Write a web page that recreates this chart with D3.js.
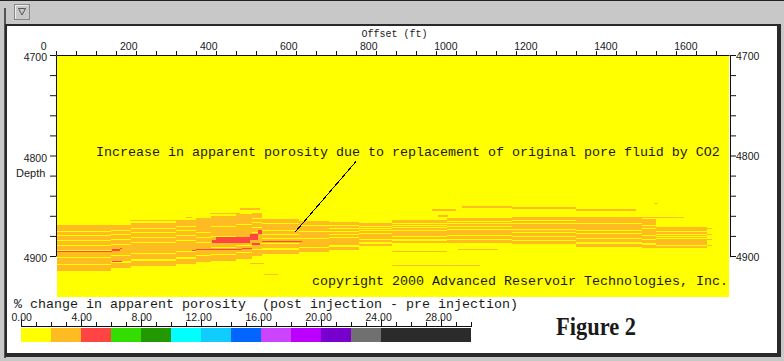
<!DOCTYPE html>
<html><head><meta charset="utf-8">
<script src="https://cdn.jsdelivr.net/npm/d3@7"></script>
<style>body{margin:0;background:#c8c8c8;overflow:hidden}svg{display:block}</style>
</head><body><svg id="c" width="784" height="361"></svg>
<script>
// ---------------- data ----------------
const offsetTicks = d3.range(0, 1651, 50);           // ft
const offsetLabels = [0,200,400,600,800,1000,1200,1400,1600];
const depthTicks = d3.range(4700, 4901, 20);          // ft
const depthLabels = [4700,4800,4900];
// legend
const legendColors = ["#ffff00","#ffbb22","#ff4444","#33dd00","#229900","#00ffff","#11ccff","#0066ff",
                      "#cc44ff","#bb00ff","#7700cc","#707070","#2b2b2b","#2b2b2b","#2b2b2b"];
const legendTickValues = d3.range(0, 31, 1);
const legendLabelValues = [0,4,8,12,16,20,24,28];
// section: trace groups (offset edges, ft) and the orange band (class 1) top / base depth per group
const traceEdges = [0,138,188,301,351,388,451,491,516,608,683,758,841,978,1141,1301,1466,1501,1628];
const bandTop  = [4869,4869,4867,4865,4862,4860,4858,4857,4863,4865,4866,4867,4864,4862,4861,4861,4863,4871];
const bandBase = [4915,4912,4910,4908,4906,4905,4903,4900,4898,4896,4894,4890,4887,4887,4888,4891,4892,4892];
// thin yellow (class 0) laminae inside the band, as fraction of band thickness, and thickness (ft)
const gapFrac  = [0.13,0.22,0.33,0.44,0.55,0.70,0.84];
const gapThick = [0.7,0.8,0.7,0.8,0.8,0.8,1.4];
// isolated streaks: [offset start, offset end, top depth, thickness]
const orangeStreaks = [
  [459,509,4852,2],[384,459,4857,1.5],[184,359,4864,1],[484,521,4906.5,1.5],[519,554,4918,1],
  [841,978,4895.5,1],[1004,1104,4893.5,1],[841,1059,4908.5,1.2],[1014,1141,4850.7,1.8],[1141,1301,4851.7,1.8],
  [1301,1451,4853.7,1.5],[939,1001,4853.7,1.5],[954,979,4859.7,1.5],[1466,1571,4860.7,1.5],[326,341,4861,1.2],
  [1494,1504,4847.5,1],[1628,1640,4872,1.2],[1628,1640,4878,1.2],[1628,1640,4883,1.2],[1628,1640,4889,1.2]
];
const redStreaks = [
  [0,139,4894.8,1.5],[139,159,4893.5,1.3],[161,166,4892.5,1],[139,164,4904.5,1.5],
  [339,351,4894,1],[351,466,4893,1.3],[466,491,4891.8,1.2],[491,509,4887.5,1.5],[516,616,4885.2,1.3],
  [389,400,4884,3],[400,484,4881.4,5.5],[484,504,4878,6.5],[504,516,4874.6,4]
];
// annotations (data coords)
const noteText = "Increase in apparent porosity due to replacement of original pore fluid by CO2";
const notePos = [100, 4800.5];
const leader = [[750, 4806], [597, 4876.5]];
const copyText = "copyright 2000 Advanced Reservoir Technologies, Inc.";
const copyPos = [640, 4928.5];

// ---------------- drawing ----------------
const svg = d3.select("#c");
const W = 784, H = 361;
// window frame
svg.append("rect").attr("width", W).attr("height", H).attr("fill", "#c8c8c8");
svg.append("rect").attr("x", 0).attr("y", 0).attr("width", W).attr("height", 1).attr("fill", "#222");
svg.append("rect").attr("x", 4).attr("y", 8).attr("width", 2).attr("height", 350).attr("fill", "#555");
svg.append("rect").attr("x", 5).attr("y", 24).attr("width", 776).attr("height", 333).attr("fill", "#2a2a2a");
svg.append("rect").attr("x", 7).attr("y", 26).attr("width", 770).attr("height", 327).attr("fill", "#fff");
// button
svg.append("rect").attr("x", 14.5).attr("y", 4.5).attr("width", 15).attr("height", 15)
  .attr("fill", "#c8c8c8").attr("stroke", "#888");
svg.append("path").attr("d", "M15.5,18.5V5.5H28.5").attr("fill", "none").attr("stroke", "#eee");
svg.append("path").attr("d", "M18.5,8.5H25.5L22,15Z").attr("fill", "none").attr("stroke", "#555");

const x = d3.scaleLinear().domain([0, 1682.5]).range([56, 729]);
const y = d3.scaleLinear().domain([4700, 4940]).range([55, 296.2]);
const yAx = y.copy().domain([4700, 4900]).range([y(4700), y(4900)]);

const heat = svg.append("g").attr("shape-rendering", "crispEdges");
heat.append("rect").attr("x", x(0) + 1).attr("y", y(4700) + 1)
  .attr("width", x(1682.5) - x(0) - 1).attr("height", y(4940) - y(4700))
  .attr("fill", legendColors[0]);

const cols = d3.range(traceEdges.length - 1);
heat.selectAll(".band").data(cols).join("rect")
  .attr("x", i => x(traceEdges[i]) + (i === 0 ? 1 : 0))
  .attr("width", i => x(traceEdges[i + 1]) - x(traceEdges[i]) - (i === 0 ? 1 : 0))
  .attr("y", i => y(bandTop[i])).attr("height", i => y(bandBase[i]) - y(bandTop[i]))
  .attr("fill", legendColors[1]);
const gaps = [];
cols.forEach(i => gapFrac.forEach((f, k) => gaps.push({ i, f, t: gapThick[k] })));
heat.selectAll(".gap").data(gaps).join("rect")
  .attr("x", d => x(traceEdges[d.i]) + (d.i === 0 ? 1 : 0))
  .attr("width", d => x(traceEdges[d.i + 1]) - x(traceEdges[d.i]) - (d.i === 0 ? 1 : 0))
  .attr("y", d => y(bandTop[d.i] + d.f * (bandBase[d.i] - bandTop[d.i])))
  .attr("height", d => y(4700 + d.t) - y(4700))
  .attr("fill", legendColors[0]);
function streaks(data, color) {
  heat.append("g").selectAll("rect").data(data).join("rect")
    .attr("x", d => Math.max(x(d[0]), x(0) + 1)).attr("width", d => x(d[1]) - Math.max(x(d[0]), x(0) + 1))
    .attr("y", d => y(d[2])).attr("height", d => y(4700 + d[3]) - y(4700))
    .attr("fill", color);
}
streaks(orangeStreaks, legendColors[1]);
streaks(redStreaks, legendColors[2]);

// axes
const sansFont = "'Liberation Sans', Arial, sans-serif";
function styleAxis(g) {
  g.selectAll(".domain, .tick line").attr("stroke", "#111");
  g.selectAll("text").attr("font-family", sansFont).attr("font-size", "10.5px").attr("fill", "#1a1a1a");
}
const topAx = svg.append("g").attr("transform", `translate(0,${y(4700)})`)
  .call(d3.axisTop(x).tickValues(offsetTicks).tickSize(4).tickSizeOuter(0).tickPadding(1.5)
    .tickFormat(d => offsetLabels.includes(d) ? d : ""));
styleAxis(topAx);
topAx.selectAll("text").attr("text-anchor", "end").attr("dx", d => d === 0 ? -10 : 1);

const leftAx = svg.append("g").attr("transform", `translate(${x(0)},0)`)
  .call(d3.axisLeft(yAx).tickValues(depthTicks).tickSize(6).tickSizeOuter(0).tickPadding(3)
    .tickFormat(d => depthLabels.includes(d) ? d : ""));
styleAxis(leftAx);
leftAx.selectAll("text").attr("dy", "0.55em");

const rightAx = svg.append("g").attr("transform", `translate(${x(1682.5) + 1},0)`)
  .call(d3.axisRight(yAx).tickValues(depthTicks).tickSize(6).tickSizeOuter(0).tickPadding(0)
    .tickFormat(d => depthLabels.includes(d) ? d : ""));
styleAxis(rightAx);
rightAx.selectAll("text").attr("dy", "0.4em");

svg.append("text").attr("x", (x(0) + x(1682.5)) / 2 + 2).attr("y", 37).attr("text-anchor", "middle")
  .attr("font-family", "'Liberation Mono', monospace").attr("font-size", "10px")
  .attr("textLength", 66).attr("lengthAdjust", "spacingAndGlyphs").attr("fill", "#1a1a1a").text("Offset (ft)");
svg.append("text").attr("x", 16).attr("y", 177).attr("font-family", sansFont).attr("font-size", "11px")
  .attr("fill", "#1a1a1a").text("Depth");

// annotation
const mono = "'Liberation Mono', 'DejaVu Sans Mono', monospace";
svg.append("text").attr("x", x(notePos[0])).attr("y", y(notePos[1]))
  .attr("font-family", mono).attr("font-size", "13.33px").attr("fill", "#1a1a1a").text(noteText);
svg.append("line").attr("x1", x(leader[0][0])).attr("y1", y(leader[0][1]))
  .attr("x2", x(leader[1][0])).attr("y2", y(leader[1][1]))
  .attr("stroke", "#000").attr("stroke-width", 1).attr("shape-rendering", "crispEdges");
svg.append("text").attr("x", x(copyPos[0])).attr("y", y(copyPos[1]))
  .attr("font-family", mono).attr("font-size", "13.33px").attr("fill", "#1a1a1a").text(copyText);

// legend
svg.append("text").attr("x", 14).attr("y", 308).style("white-space", "pre").attr("xml:space", "preserve")
  .attr("font-family", mono).attr("font-size", "13.33px").attr("fill", "#1a1a1a")
  .text("% change in apparent porosity  (post injection - pre injection)");
const lx = d3.scaleLinear().domain([0, 30]).range([21, 471]);
const cells = d3.range(legendColors.length);
svg.append("g").attr("shape-rendering", "crispEdges").selectAll("rect").data(cells).join("rect")
  .attr("x", i => lx(i * 2)).attr("width", i => lx(i * 2 + 2) - lx(i * 2))
  .attr("y", 327.5).attr("height", 14.5).attr("fill", i => legendColors[i]);
const lg = svg.append("g").attr("transform", "translate(0,326)");
lg.append("line").attr("x1", lx(0)).attr("x2", lx(30) + 1).attr("y1", 0.5).attr("y2", 0.5).attr("stroke", "#111");
lg.selectAll(".lt").data(legendTickValues).join("line")
  .attr("x1", d => Math.round(lx(d)) + 0.5).attr("x2", d => Math.round(lx(d)) + 0.5)
  .attr("y1", d => legendLabelValues.includes(d) ? -7 : -4).attr("y2", 0.5).attr("stroke", "#111");
lg.selectAll(".ll").data(legendLabelValues).join("text")
  .attr("x", d => lx(d) - (d >= 10 ? 15.5 : 9.5)).attr("y", -5.5)
  .attr("font-family", sansFont).attr("font-size", "10.5px").attr("fill", "#1a1a1a")
  .text(d => d3.format(".2f")(d));

svg.append("text").attr("x", 556).attr("y", 335)
  .attr("font-family", "'Liberation Serif', 'Times New Roman', serif").attr("font-weight", "bold")
  .attr("font-size", "25px").attr("textLength", 80).attr("lengthAdjust", "spacingAndGlyphs")
  .attr("fill", "#1a1a1a").text("Figure 2");
</script></body></html>
